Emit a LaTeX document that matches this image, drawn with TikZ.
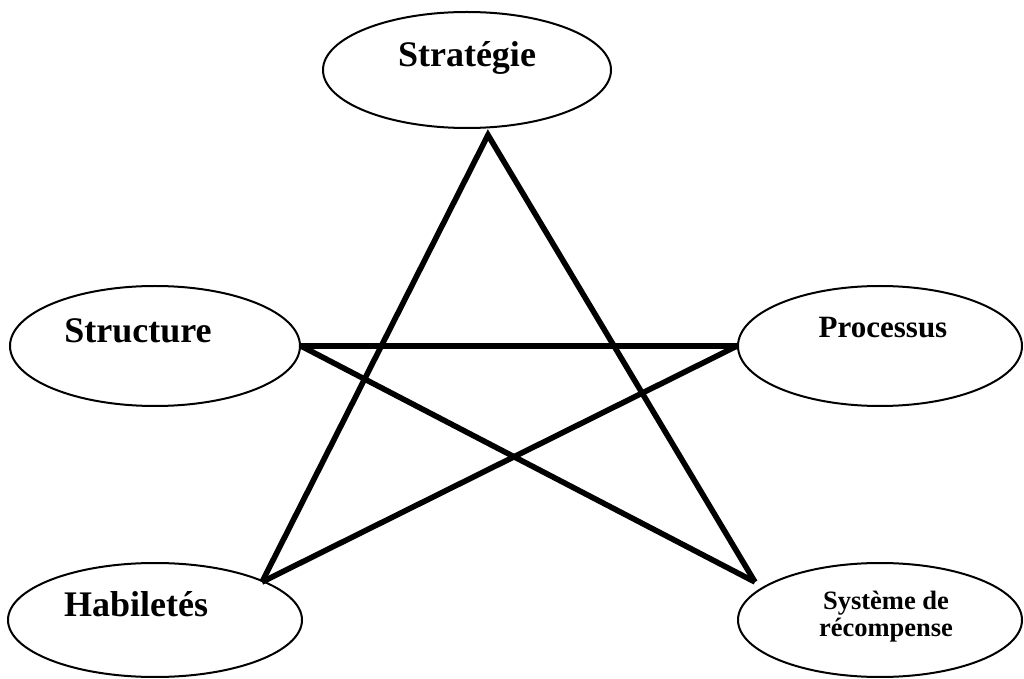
\documentclass[tikz,border=0pt]{standalone}
\usepackage{fontspec}
\setmainfont{Liberation Serif}
\usetikzlibrary{shapes.geometric}

\begin{document}
\begin{tikzpicture}[x=0.5pt,y=-0.5pt,
    main node/.style={ellipse,draw,line width=1pt,inner sep=0pt},
    big label/.style={font=\bfseries\fontsize{18}{20}\selectfont,inner sep=0pt,anchor=base},
    star line/.style={line width=2.8pt}]
        \useasboundingbox (0,0) rectangle (1024,679);
        % ellipses
        \node[main node,minimum width=144pt,minimum height=58pt] (strat) at (467,70) {};
        \node[main node,minimum width=145pt,minimum height=60pt] (struct) at (155,346) {};
        \node[main node,minimum width=142pt,minimum height=60pt] (proc) at (880,346) {};
        \node[main node,minimum width=147pt,minimum height=57pt] (habil) at (155,620) {};
        \node[main node,minimum width=142pt,minimum height=57pt] (syst) at (880,620) {};
        % texts
        \node[big label] (strat text) at (467,67) {Stratégie};
        \node[big label] (struct text) at (138,343) {Structure};
        \node[big label,font=\bfseries\fontsize{15.5}{17}\selectfont] (proc text) at (883,338) {Processus};
        \node[big label] (habil text) at (136,617) {Habiletés};
        \node[inner sep=0pt,anchor=north,align=center,
              font=\bfseries\fontsize{13.25}{13.5}\selectfont] (syst text) at (886,591)
              {Système de\\récompense};
        % star
        \coordinate (apex) at (488,135);
        \coordinate (habil tip) at (262,582);
        \coordinate (syst tip) at (755,582);
        \draw[star line] (habil tip) -- (apex) -- (syst tip);
        \path[star line]
          (struct.east) edge (proc.west)
          (struct.east) edge (syst tip)
          (habil tip) edge (proc.west);
      \end{tikzpicture}
\end{document}
